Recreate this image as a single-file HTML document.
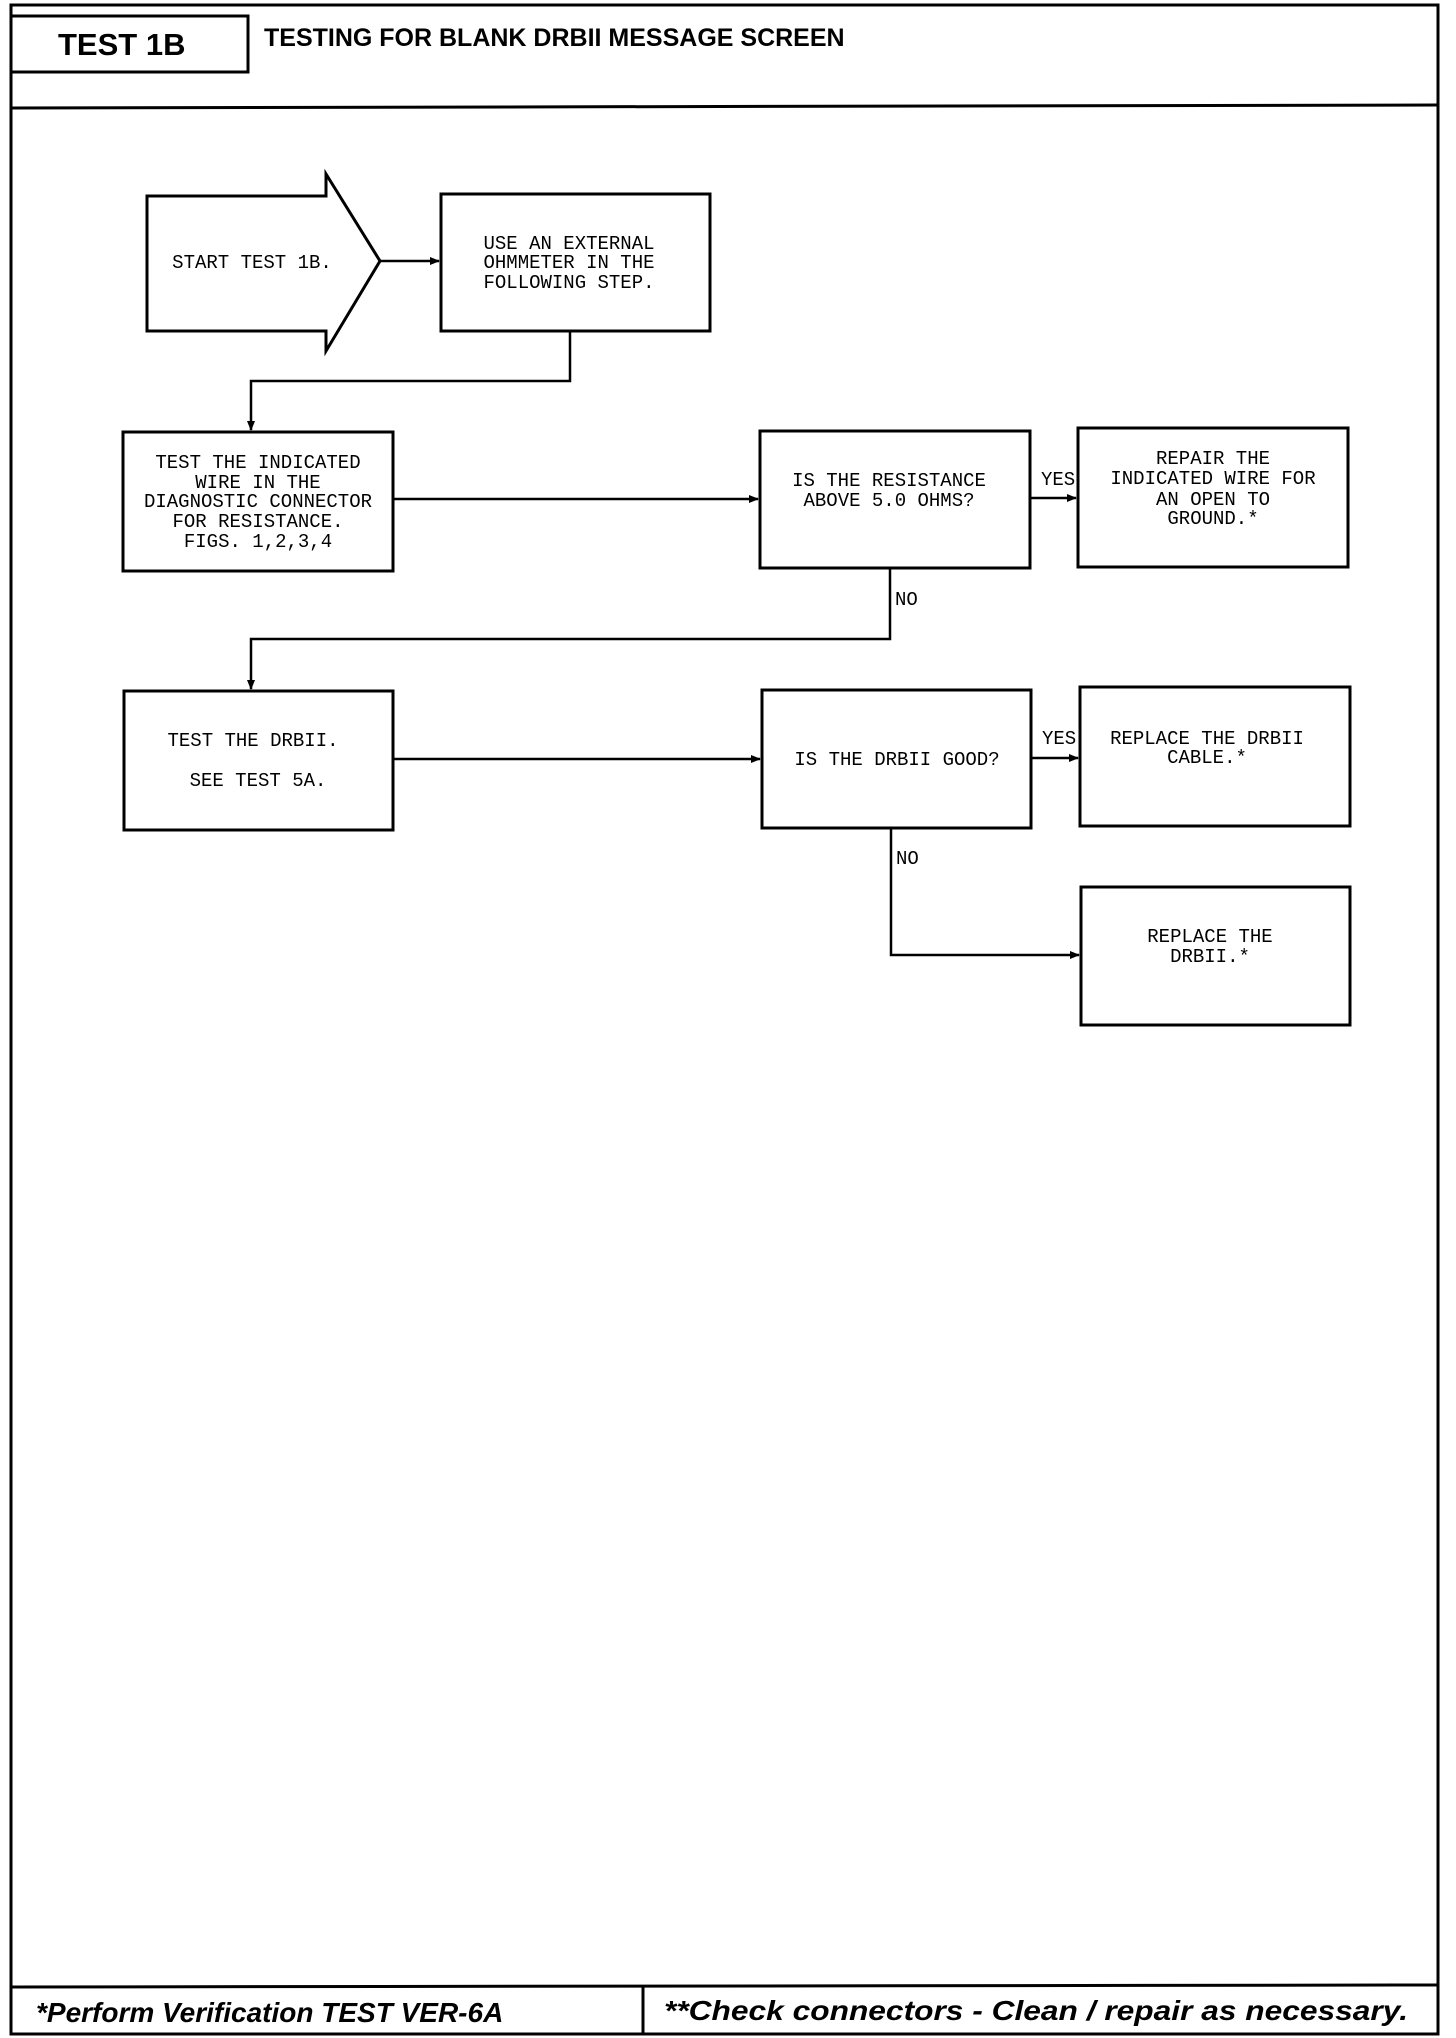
<!DOCTYPE html>
<html><head><meta charset="utf-8"><style>
html,body{margin:0;padding:0;background:#fff;}
svg{display:block;}
.m{font-family:"Liberation Mono",monospace;font-size:19px;fill:#000;}
</style></head><body>
<svg width="1456" height="2038" viewBox="0 0 1456 2038" xmlns="http://www.w3.org/2000/svg">
<defs><marker id="a" markerWidth="10" markerHeight="10" refX="9" refY="5" orient="auto" markerUnits="userSpaceOnUse"><path d="M0,1 L10,5 L0,9 z" fill="#000"/></marker></defs>
<g fill="none" stroke="#000" stroke-width="3">
<rect x="11" y="5" width="1427" height="2029"/>
<line x1="11" y1="108" x2="1438" y2="105"/>
<rect x="11" y="16" width="237" height="56"/>
<line x1="11" y1="1987" x2="1438" y2="1985"/>
<line x1="643" y1="1986" x2="643" y2="2034"/>
<path d="M147,196 H326 V174 L380,261 L326,351 V331 H147 Z"/>
<rect x="441" y="194" width="269" height="137"/>
<rect x="123" y="432" width="270" height="139"/>
<rect x="760" y="431" width="270" height="137"/>
<rect x="1078" y="428" width="270" height="139"/>
<rect x="124" y="691" width="269" height="139"/>
<rect x="762" y="690" width="269" height="138"/>
<rect x="1080" y="687" width="270" height="139"/>
<rect x="1081" y="887" width="269" height="138"/>
</g>
<g fill="none" stroke="#000" stroke-width="2.5">
<line x1="380" y1="261" x2="439" y2="261" marker-end="url(#a)"/>
<polyline points="570,331 570,381 251,381 251,430" marker-end="url(#a)"/>
<line x1="393" y1="499" x2="758" y2="499" marker-end="url(#a)"/>
<line x1="1030" y1="498" x2="1076" y2="498" marker-end="url(#a)"/>
<polyline points="890,568 890,639 251,639 251,689" marker-end="url(#a)"/>
<line x1="393" y1="759" x2="760" y2="759" marker-end="url(#a)"/>
<line x1="1031" y1="758" x2="1078" y2="758" marker-end="url(#a)"/>
<polyline points="891,828 891,955 1079,955" marker-end="url(#a)"/>
</g>
<text x="58" y="55" font-family="Liberation Sans,sans-serif" font-weight="bold" font-size="31">TEST 1B</text>
<text x="264" y="46" font-family="Liberation Sans,sans-serif" font-weight="bold" font-size="25">TESTING FOR BLANK DRBII MESSAGE SCREEN</text>
<text x="36" y="2022" font-family="Liberation Sans,sans-serif" font-weight="bold" font-style="italic" font-size="28">*Perform Verification TEST VER-6A</text>
<text x="664" y="2020" font-family="Liberation Sans,sans-serif" font-weight="bold" font-style="italic" font-size="28" textLength="744" lengthAdjust="spacingAndGlyphs">**Check connectors - Clean / repair as necessary.</text>
<g class="m" text-anchor="middle">
<text x="252" y="268">START TEST 1B.</text>
<text x="569" y="249">USE AN EXTERNAL</text>
<text x="569" y="268">OHMMETER IN THE</text>
<text x="569" y="288">FOLLOWING STEP.</text>
<text x="258" y="468">TEST THE INDICATED</text>
<text x="258" y="488">WIRE IN THE</text>
<text x="258" y="507">DIAGNOSTIC CONNECTOR</text>
<text x="258" y="527">FOR RESISTANCE.</text>
<text x="258" y="547">FIGS. 1,2,3,4</text>
<text x="889" y="486">IS THE RESISTANCE</text>
<text x="889" y="506">ABOVE 5.0 OHMS?</text>
<text x="1213" y="464">REPAIR THE</text>
<text x="1213" y="484">INDICATED WIRE FOR</text>
<text x="1213" y="505">AN OPEN TO</text>
<text x="1213" y="524">GROUND.*</text>
<text x="253" y="746">TEST THE DRBII.</text>
<text x="258" y="786">SEE TEST 5A.</text>
<text x="897" y="765">IS THE DRBII GOOD?</text>
<text x="1207" y="744">REPLACE THE DRBII</text>
<text x="1207" y="763">CABLE.*</text>
<text x="1210" y="942">REPLACE THE</text>
<text x="1210" y="962">DRBII.*</text>
</g>
<g class="m">
<text x="1041" y="485">YES</text>
<text x="1042" y="744">YES</text>
<text x="895" y="605">NO</text>
<text x="896" y="864">NO</text>
</g>
</svg>
</body></html>
